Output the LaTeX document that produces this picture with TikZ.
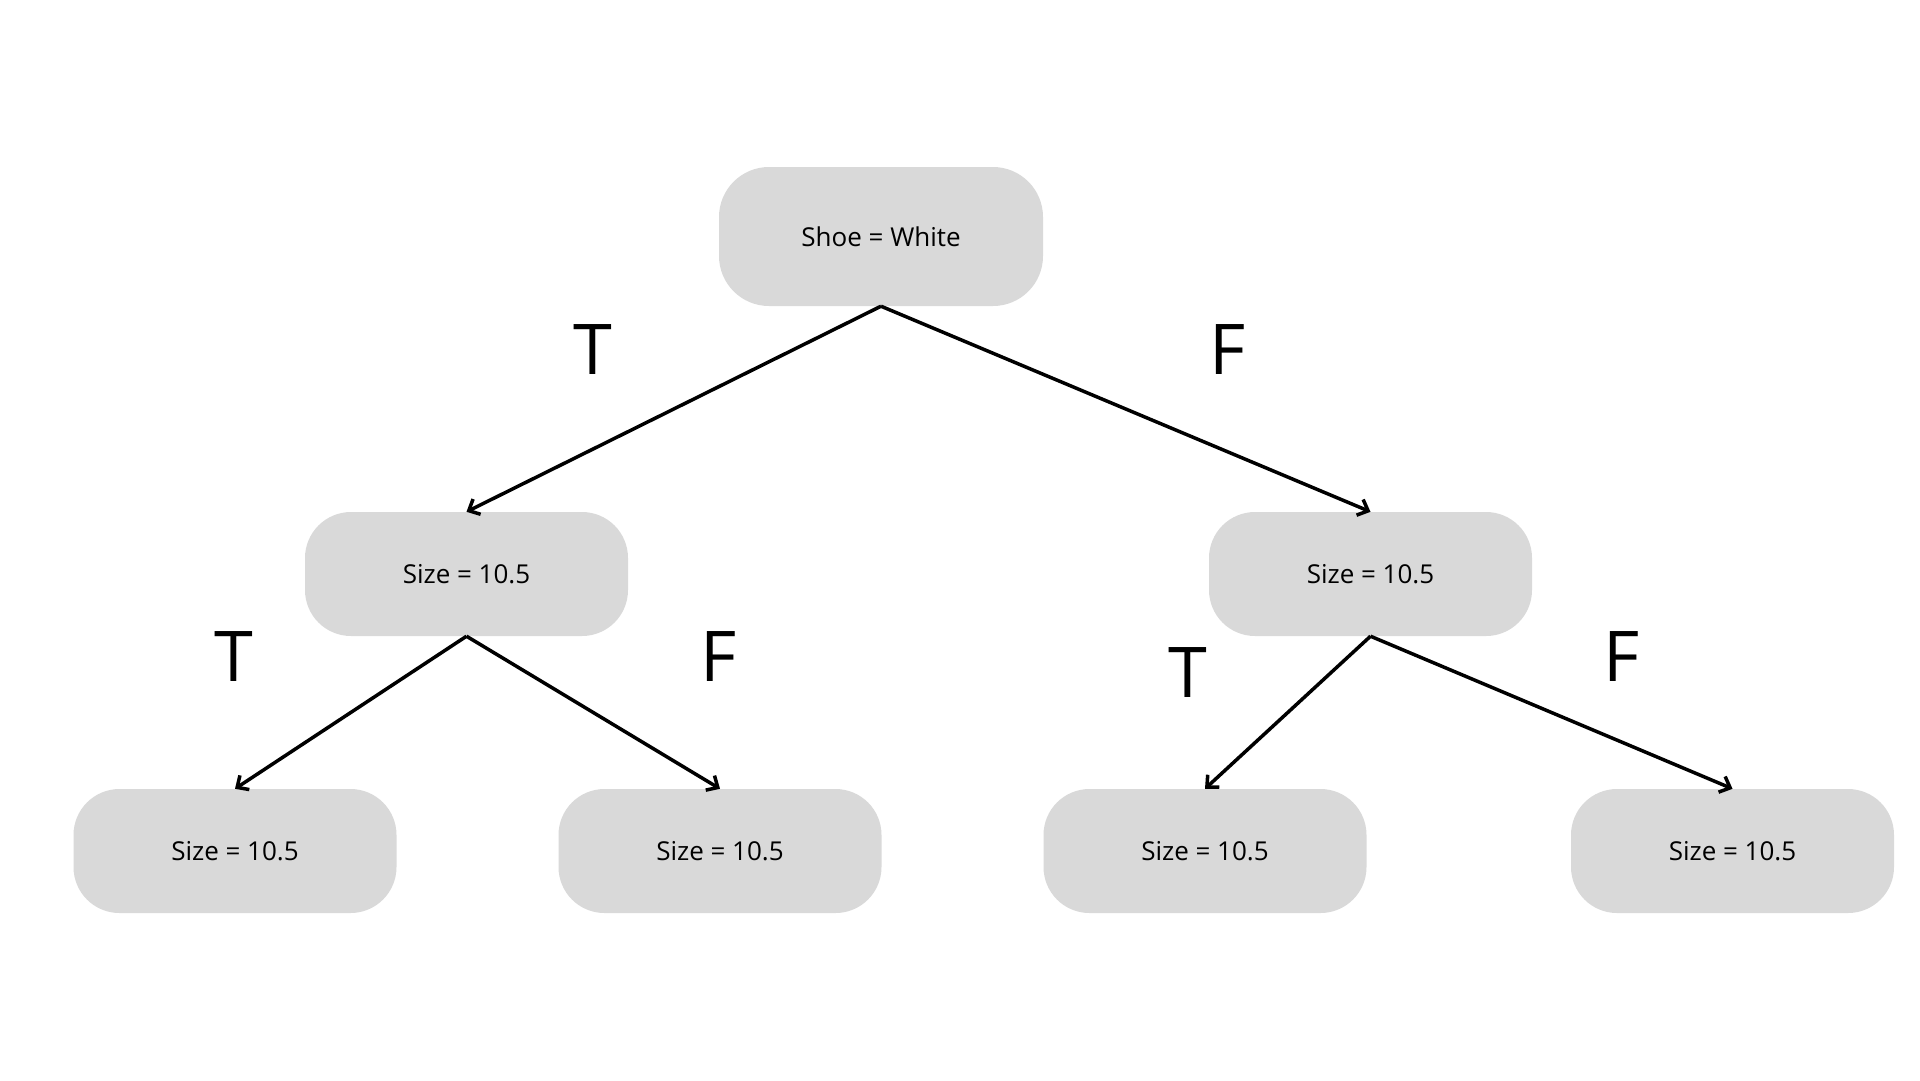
\documentclass[tikz,border=0pt]{standalone}
\usepackage{fontspec}
\setmainfont{Open Sans}
\usetikzlibrary{arrows.meta}
\definecolor{boxgray}{HTML}{D9D9D9}
\tikzset{
  box/.style={draw=none, fill=boxgray, rounded corners=46pt, inner sep=0pt,
    minimum width=323pt, minimum height=124pt, text depth=-3pt, font=\fontsize{26}{30}\selectfont},
  rootbox/.style={box, minimum width=324pt, minimum height=139pt, rounded corners=50pt},
  branch/.style={line width=3.5pt, -{Straight Barb[length=9pt,width=17pt,line width=3.5pt]}},
  tf/.style={font=\fontsize{70}{80}\selectfont, inner sep=0pt}
}
\begin{document}
\begin{tikzpicture}[x=1pt,y=-1pt]
\useasboundingbox (0,0) rectangle (1920,1080);
\fill[white] (0,0) rectangle (1920,1080);
% decision nodes
\node[rootbox] (root) at (881,236.5) {Shoe = White};
\node[box] (l) at (466.5,574) {Size = 10.5};
\node[box] (r) at (1370.5,574) {Size = 10.5};
\node[box] (ll) at (235,851) {Size = 10.5};
\node[box] (lr) at (720,851) {Size = 10.5};
\node[box] (rl) at (1205,851) {Size = 10.5};
\node[box] (rr) at (1732.5,851) {Size = 10.5};
% branches
\draw[branch] (root.south) -- (l.north);
\draw[branch] (root.south) -- (r.north);
\draw[branch] (l.south) -- (ll.north);
\draw[branch] (l.south) -- (lr.north);
\draw[branch] (r.south) -- (rl.north);
\draw[branch] (r.south) -- (rr.north);
% branch labels
\node[tf] (t1) at (593,350) {T};
\node[tf] (f1) at (1228,350) {F};
\node[tf] (t2) at (234,657) {T};
\node[tf] (f2) at (719,657) {F};
\node[tf] (t3) at (1188,673) {T};
\node[tf] (f3) at (1622,657) {F};
\end{tikzpicture}
\end{document}
